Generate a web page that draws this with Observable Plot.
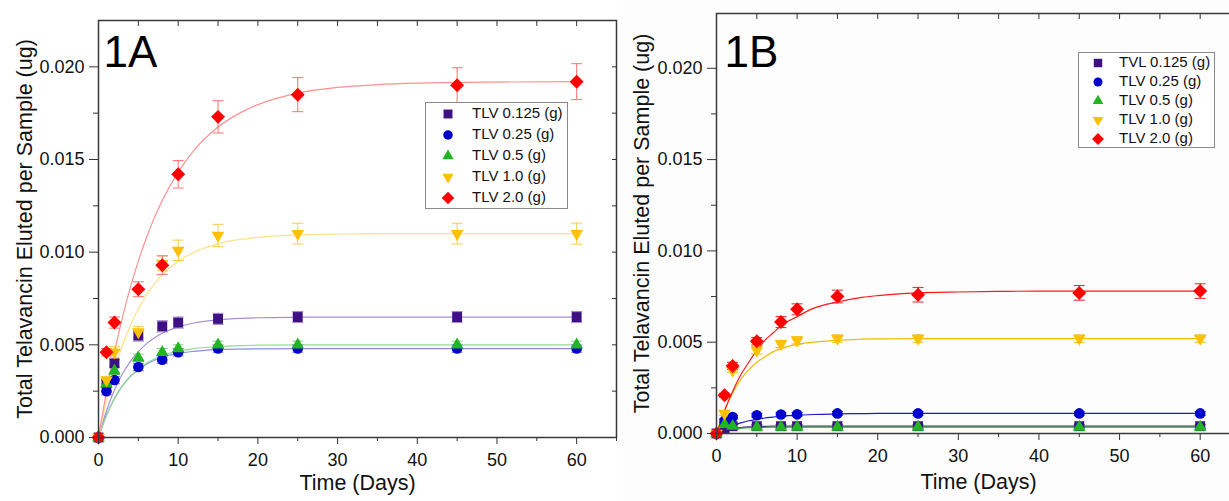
<!DOCTYPE html>
<html><head><meta charset="utf-8">
<script src="https://cdn.jsdelivr.net/npm/d3@7"></script>
<script src="https://cdn.jsdelivr.net/npm/@observablehq/plot@0.6"></script>
<style>
html,body{margin:0;padding:0;background:#fff;overflow:hidden;width:1229px;height:501px;}
#wrap{position:relative;width:1229px;height:501px;overflow:hidden;font-family:"Liberation Sans",Arial,sans-serif;}
.panel{position:absolute;top:0;}
.legend{position:absolute;border:1px solid #8a8a8a;background:#fff;box-sizing:border-box;}
.row{position:absolute;white-space:nowrap;color:#111;}
.mk{position:absolute;}
</style></head><body><div id="wrap"></div>
<script>
// ---------- data ----------
const days = [0, 1, 2, 5, 8, 10, 15, 25, 45, 60];
const fitDays = [0, 1, 2, 3, 4, 5, 6, 7, 8, 10, 12, 15, 18, 20, 25, 30, 35, 40, 50, 60];
const xMajor = [0, 10, 20, 30, 40, 50, 60];
const xMinor = [5, 15, 25, 35, 45, 55, 65];
const xTop = [0, 5, 10, 15, 20, 25, 30, 35, 40, 45, 50, 55, 60, 65];
const yMajor = [0, 0.005, 0.010, 0.015, 0.020];
const yMinor = [0.0025, 0.0075, 0.0125, 0.0175];
const yRight = [0.0025, 0.005, 0.0075, 0.010, 0.0125, 0.015, 0.0175, 0.020];

const namesA = ["TLV 0.125 (g)", "TLV 0.25 (g)", "TLV 0.5 (g)", "TLV 1.0 (g)", "TLV 2.0 (g)"];
const namesB = ["TVL 0.125 (g)", "TLV 0.25 (g)", "TLV 0.5 (g)", "TLV 1.0 (g)", "TLV 2.0 (g)"];

// Panel 1A measured points
const a_0125 = [0, 0.0029, 0.0040, 0.0055, 0.0060, 0.0062, 0.0064, 0.0065, 0.0065, 0.0065];
const a_025  = [0, 0.0025, 0.0031, 0.0038, 0.0042, 0.0046, 0.0048, 0.0048, 0.0048, 0.0048];
const a_05   = [0, 0.0029, 0.0036, 0.0043, 0.0046, 0.0048, 0.0050, 0.0050, 0.0050, 0.0050];
const a_10   = [0, 0.0031, 0.0046, 0.0057, 0.0094, 0.0101, 0.0109, 0.0110, 0.0110, 0.0110];
const a_20   = [0, 0.0046, 0.0062, 0.0080, 0.0093, 0.0142, 0.0173, 0.0185, 0.0190, 0.0192];
// Panel 1A error bars
const a_0125_err = [0, 0.0002, 0.0002, 0.0003, 0.0003, 0.0003, 0.0003, 0.0003, 0.0003, 0.0003];
const a_025_err  = [0, 0.0002, 0.0002, 0.0002, 0.0002, 0.0002, 0.0002, 0.0002, 0.0002, 0.0002];
const a_05_err   = [0, 0.0002, 0.0002, 0.0002, 0.0002, 0.0002, 0.0002, 0.0002, 0.0002, 0.0002];
const a_10_err   = [0, 0.0002, 0.0003, 0.0003, 0.0004, 0.00055, 0.0006, 0.00056, 0.00056, 0.00057];
const a_20_err   = [0, 0.0002, 0.0003, 0.0004, 0.0005, 0.00074, 0.00087, 0.00092, 0.00095, 0.00097];
// Panel 1A fitted curves (read at fitDays)
const a_0125_fit = [0, 0.00144, 0.00256, 0.00343, 0.00411, 0.00463, 0.00505, 0.00537, 0.00562, 0.00597, 0.00618, 0.00635, 0.00643, 0.00646, 0.00649, 0.0065, 0.0065, 0.0065, 0.0065, 0.0065];
const a_025_fit  = [0, 0.00121, 0.00211, 0.00279, 0.00329, 0.00367, 0.00396, 0.00417, 0.00433, 0.00454, 0.00465, 0.00474, 0.00477, 0.00478, 0.0048, 0.0048, 0.0048, 0.0048, 0.0048, 0.0048];
const a_05_fit   = [0, 0.00118, 0.00209, 0.00278, 0.0033, 0.0037, 0.00401, 0.00424, 0.00442, 0.00466, 0.0048, 0.00491, 0.00496, 0.00498, 0.005, 0.005, 0.005, 0.005, 0.005, 0.005];
const a_10_fit   = [0, 0.0020, 0.00363, 0.00496, 0.00606, 0.00695, 0.00769, 0.00828, 0.00878, 0.00951, 0.0100, 0.01045, 0.0107, 0.0108, 0.01093, 0.01097, 0.0110, 0.0110, 0.0110, 0.0110];
const a_20_fit   = [0, 0.00246, 0.0046, 0.00647, 0.0081, 0.00952, 0.01076, 0.01185, 0.01279, 0.01432, 0.0155, 0.01675, 0.01757, 0.01796, 0.01858, 0.01889, 0.01904, 0.01912, 0.01918, 0.0192];

// Panel 1B measured points
const b_0125 = [0, 0.0003, 0.0004, 0.0004, 0.0004, 0.0004, 0.0004, 0.0004, 0.0004, 0.0004];
const b_025  = [0, 0.0007, 0.0009, 0.0010, 0.00104, 0.00105, 0.0011, 0.0011, 0.0011, 0.0011];
const b_05   = [0, 0.0005, 0.0004, 0.00035, 0.00035, 0.00035, 0.00035, 0.00035, 0.00035, 0.00035];
const b_10   = [0, 0.0011, 0.00345, 0.00455, 0.0049, 0.0051, 0.0052, 0.0052, 0.0052, 0.0052];
const b_20   = [0, 0.0021, 0.0037, 0.00505, 0.0061, 0.0068, 0.0075, 0.0076, 0.0077, 0.0078];
// Panel 1B error bars
const b_0125_err = [0, 0.0001, 0.0001, 0.0001, 0.0001, 0.0001, 0.0001, 0.0001, 0.0001, 0.0001];
const b_025_err  = [0, 0.0001, 0.0001, 0.0001, 0.0001, 0.0001, 0.0001, 0.0001, 0.0001, 0.0001];
const b_05_err   = [0, 0.0001, 0.0001, 0.0001, 0.0001, 0.0001, 0.0001, 0.0001, 0.0001, 0.0001];
const b_10_err   = [0, 0.0001, 0.0001, 0.0002, 0.0002, 0.0002, 0.0002, 0.0002, 0.0002, 0.0002];
const b_20_err   = [0, 0.0001, 0.0002, 0.0002, 0.0003, 0.0003, 0.00035, 0.0004, 0.0004, 0.0004];
// Panel 1B fitted curves
const b_0125_fit = [0, 0.00018, 0.00028, 0.00033, 0.00036, 0.00038, 0.00039, 0.0004, 0.0004, 0.0004, 0.0004, 0.0004, 0.0004, 0.0004, 0.0004, 0.0004, 0.0004, 0.0004, 0.0004, 0.0004];
const b_025_fit  = [0, 0.00024, 0.00043, 0.00058, 0.0007, 0.00078, 0.00085, 0.0009, 0.00095, 0.0010, 0.00104, 0.00107, 0.00109, 0.0011, 0.0011, 0.0011, 0.0011, 0.0011, 0.0011, 0.0011];
const b_05_fit   = [0, 0.00016, 0.00025, 0.00029, 0.00032, 0.00033, 0.00034, 0.00035, 0.00035, 0.00035, 0.00035, 0.00035, 0.00035, 0.00035, 0.00035, 0.00035, 0.00035, 0.00035, 0.00035, 0.00035];
const b_10_fit   = [0, 0.00127, 0.00223, 0.00295, 0.0035, 0.0039, 0.0042, 0.00447, 0.00465, 0.00488, 0.0050, 0.0051, 0.00517, 0.00518, 0.0052, 0.0052, 0.0052, 0.0052, 0.0052, 0.0052];
const b_20_fit   = [0, 0.00125, 0.0023, 0.0032, 0.0039, 0.00455, 0.0051, 0.0055, 0.0059, 0.0064, 0.00685, 0.0072, 0.00745, 0.00755, 0.0077, 0.00775, 0.00778, 0.0078, 0.0078, 0.0078];

// ---------- styles ----------
const markerColors = ["#3f0f84", "#0000cc", "#22b422", "#ffc000", "#ff0000"];
const symbols = ["square", "circle", "triangle", "triangle", "diamond2"];
const d3symbols = [d3.symbolSquare, d3.symbolCircle, d3.symbolTriangle, d3.symbolTriangle, d3.symbolDiamond2];
const rotations = [0, 0, 0, 180, 0];
const radii = [5.6, 5.3, 4.7, 4.7, 6.3];
const lineColorsA = ["#a690d8", "#8c8ce8", "#92de92", "#ffe08c", "#ff9090"];
const barColorsA = ["#9a86cc", "#7f7fe0", "#80d080", "#ffc94d", "#ff7070"];
const lineColorsB = ["#4b2a8c", "#1a1ad6", "#22aa22", "#f0c000", "#ff1a1a"];
const barColorsB = ["#5a3a9a", "#2a2ad0", "#2aa02a", "#e8b800", "#ee2020"];

const cap = {draw(ctx) { ctx.moveTo(-5.5, 0); ctx.lineTo(5.5, 0); }};
const FONT = '"Liberation Sans", Arial, sans-serif';
const wrap = document.getElementById("wrap");

function buildPanel(cfg) {
  const marks = [];
  cfg.fits.forEach((f, i) => {
    const pts = fitDays.map((d, j) => ({day: d, v: f[j]}));
    marks.push(Plot.line(pts, {x: "day", y: "v", stroke: cfg.lineColors[i], strokeWidth: 1.2, curve: "monotone-x"}));
  });
  cfg.values.forEach((vals, i) => {
    const pts = days.map((d, j) => ({day: d, v: vals[j], e: cfg.errors[i][j]})).filter(p => p.e > 0);
    marks.push(Plot.ruleX(pts, {x: "day", y1: p => p.v - p.e, y2: p => p.v + p.e, stroke: cfg.barColors[i], strokeWidth: 1}));
    marks.push(Plot.dot(pts, {x: "day", y: p => p.v + p.e, symbol: cap, stroke: cfg.barColors[i], fill: "none", strokeWidth: 1}));
    marks.push(Plot.dot(pts, {x: "day", y: p => p.v - p.e, symbol: cap, stroke: cfg.barColors[i], fill: "none", strokeWidth: 1}));
  });
  cfg.values.forEach((vals, i) => {
    const pts = days.map((d, j) => ({day: d, v: vals[j]}));
    marks.push(Plot.dot(pts, {x: "day", y: "v", symbol: symbols[i], r: radii[i], fill: markerColors[i], stroke: "none", rotate: rotations[i]}));
  });
  const ax = "#333";
  marks.push(
    Plot.axisY({ticks: yMajor, tickFormat: d3.format(".3f"), tickSize: 9, tickPadding: 5, fontSize: 18, label: null, stroke: ax, fill: "#111"}),
    Plot.axisY({ticks: yMinor, tickSize: 5, fill: "none", label: null, stroke: ax}),
    Plot.axisY({anchor: "right", ticks: yRight, tickSize: -5, fill: "none", label: null, stroke: ax}),
    Plot.axisX({ticks: xMajor, tickFormat: d3.format("d"), tickSize: 7, tickPadding: 9, fontSize: 18, label: null, stroke: ax, fill: "#111"}),
    Plot.axisX({ticks: xMinor, tickSize: 4, fill: "none", label: null, stroke: ax}),
    Plot.axisX({anchor: "top", ticks: xTop, tickSize: -5, fill: "none", label: null, stroke: ax}),
    Plot.frame({stroke: "#3a3a3a", strokeWidth: 1.5}),
    Plot.text([cfg.tag], {text: d => d, frameAnchor: "top-left", dx: cfg.tagDx, dy: cfg.tagDy, fontSize: 44, textAnchor: "start", lineAnchor: "top", fill: "#000"}),
    Plot.text(["Time (Days)"], {text: d => d, frameAnchor: "bottom", dy: cfg.xLabelDy, fontSize: 21.5, textAnchor: "middle", fill: "#111"}),
    Plot.text(["Total Telavancin Eluted per Sample (ug)"], {text: d => d, frameAnchor: "left", dx: cfg.yLabelDx, rotate: -90, fontSize: 21.5, textAnchor: "middle", lineAnchor: "middle", fill: "#111"})
  );
  const svg = Plot.plot({
    width: cfg.width, height: 501,
    marginLeft: cfg.mL, marginRight: cfg.mR, marginTop: cfg.mT, marginBottom: cfg.mB,
    x: {domain: [0, 65]},
    y: {domain: cfg.yDomain},
    style: {background: cfg.bg, fontFamily: FONT, overflow: "visible"},
    marks
  });
  svg.classList.add("panel");
  svg.style.left = cfg.left + "px";
  wrap.appendChild(svg);

  // legend (inside plot area, drawn as overlay)
  const lg = document.createElement("div");
  lg.className = "legend";
  Object.assign(lg.style, {left: cfg.lg.left + "px", top: cfg.lg.top + "px", width: cfg.lg.w + "px", height: cfg.lg.h + "px"});
  cfg.names.forEach((n, i) => {
    const cy = cfg.lg.first + i * cfg.lg.step;
    const s = 16;
    const m = document.createElementNS("http://www.w3.org/2000/svg", "svg");
    m.setAttribute("width", s); m.setAttribute("height", s);
    m.setAttribute("class", "mk");
    m.style.left = (cfg.lg.mx - s / 2) + "px"; m.style.top = (cy - s / 2) + "px";
    const p = document.createElementNS("http://www.w3.org/2000/svg", "path");
    const r = radii[i] * cfg.lg.scale;
    p.setAttribute("d", d3.symbol(d3symbols[i], Math.PI * r * r)());
    p.setAttribute("fill", markerColors[i]);
    p.setAttribute("transform", `translate(${s / 2},${s / 2}) rotate(${rotations[i]})`);
    m.appendChild(p);
    lg.appendChild(m);
    const t = document.createElement("div");
    t.className = "row";
    t.textContent = n;
    Object.assign(t.style, {left: cfg.lg.tx + "px", top: (cy - cfg.lg.fs * 0.58) + "px", fontSize: cfg.lg.fs + "px", lineHeight: "1"});
    lg.appendChild(t);
  });
  wrap.appendChild(lg);
}

buildPanel({
  left: 0, width: 620, mL: 98, mR: 4, mT: 20, mB: 64,
  yDomain: [0, 0.0225], bg: "#ffffff",
  values: [a_0125, a_025, a_05, a_10, a_20],
  errors: [a_0125_err, a_025_err, a_05_err, a_10_err, a_20_err],
  fits: [a_0125_fit, a_025_fit, a_05_fit, a_10_fit, a_20_fit],
  lineColors: lineColorsA, barColors: barColorsA,
  tag: "1A", tagDx: 5, tagDy: 15, xLabelDy: 52, yLabelDx: -73,
  names: namesA,
  lg: {left: 425, top: 102, w: 143, h: 107, first: 11, step: 21, mx: 22, tx: 46, fs: 15, scale: 0.9}
});
buildPanel({
  left: 622, width: 620, mL: 94, mR: 2, mT: 13, mB: 68,
  yDomain: [0, 0.023], bg: "#fdfdfd",
  values: [b_0125, b_025, b_05, b_10, b_20],
  errors: [b_0125_err, b_025_err, b_05_err, b_10_err, b_20_err],
  fits: [b_0125_fit, b_025_fit, b_05_fit, b_10_fit, b_20_fit],
  lineColors: lineColorsB, barColors: barColorsB,
  tag: "1B", tagDx: 8, tagDy: 22, xLabelDy: 55, yLabelDx: -74,
  names: namesB,
  lg: {left: 1078, top: 52, w: 137, h: 96, first: 10, step: 19, mx: 19, tx: 40, fs: 15, scale: 0.85}
});
</script></body></html>
